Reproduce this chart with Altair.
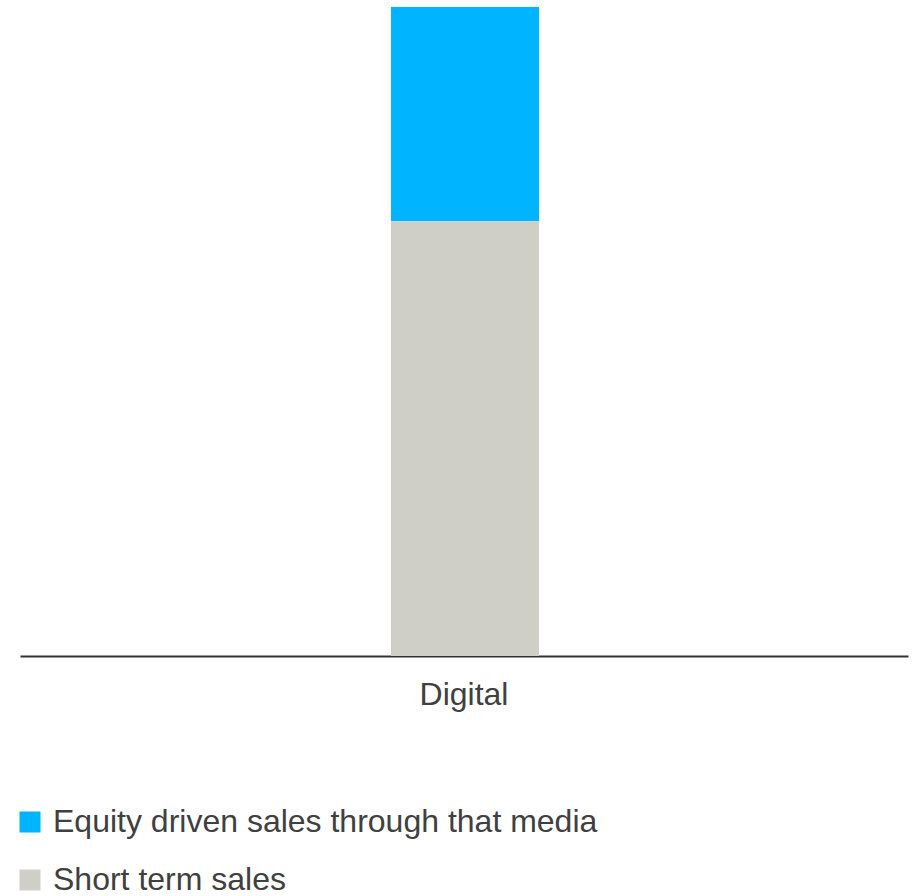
import altair as alt
import pandas as pd

categories = ["Digital", "Digital"]
series = ["Equity driven sales through that media", "Short term sales"]
values = [33, 67]
stack_order = [2, 1]
colors = ["#00B4FF", "#CFCFC7"]

df = pd.DataFrame({"category": categories, "series": series, "value": values, "order": stack_order})

FONT = "Liberation Sans"

chart = alt.Chart(df).mark_bar(width=148, xOffset=1).encode(
    x=alt.X("category:N", title=None,
            axis=alt.Axis(labelAngle=0, ticks=False, domainColor="#333333", domainWidth=2,
                          labelFontSize=32, labelColor="#404040", labelFont=FONT, labelPadding=23)),
    y=alt.Y("value:Q", stack="zero", scale=alt.Scale(domain=[0, 100], nice=False), axis=None),
    color=alt.Color("series:N", sort=series,
                    scale=alt.Scale(domain=series, range=colors),
                    legend=alt.Legend(title=None, orient="none", legendX=-6, legendY=799,
                                      symbolType="square", symbolSize=441, symbolStrokeWidth=0,
                                      labelFontSize=32, labelColor="#404040", labelFont=FONT,
                                      labelOffset=7, rowPadding=26, padding=0,
                                      labelLimit=800)),
    order=alt.Order("order:Q"),
).properties(
    width=888, height=649,
    autosize=alt.AutoSizeParams(type="none"),
    padding={"left": 20, "top": 7, "right": 13, "bottom": 240},
).configure_view(stroke=None).configure_scale(bandPaddingInner=0.0)

chart.save("out.html", embed_options={"renderer": "svg", "actions": False})
